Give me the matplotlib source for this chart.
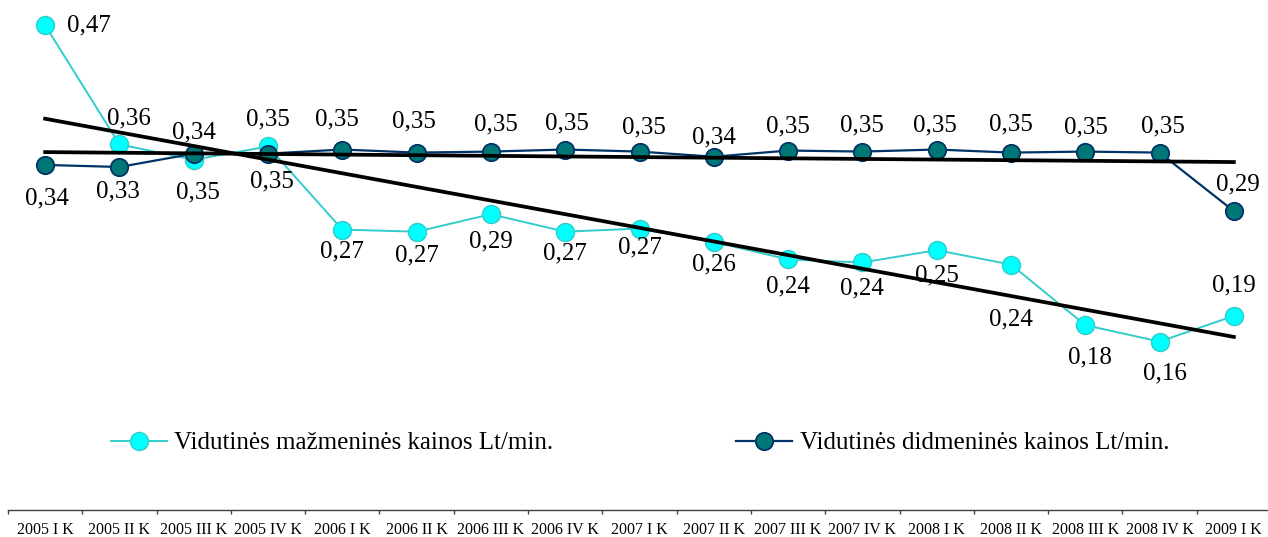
import matplotlib.pyplot as plt
import numpy as np

plt.rcParams['font.family'] = ['Liberation Serif', 'DejaVu Serif']

quarters = ['2005 I K', '2005 II K', '2005 III K', '2005 IV K',
            '2006 I K', '2006 II K', '2006 III K', '2006 IV K',
            '2007 I K', '2007 II K', '2007 III K', '2007 IV K',
            '2008 I K', '2008 II K', '2008 III K', '2008 IV K',
            '2009 I K']

retail = [0.472, 0.356, 0.341, 0.354, 0.273, 0.271, 0.288, 0.271, 0.274,
          0.261, 0.244, 0.241, 0.253, 0.239, 0.180, 0.164, 0.189]
wholesale = [0.336, 0.334, 0.347, 0.347, 0.351, 0.348, 0.349, 0.351, 0.349,
             0.344, 0.350, 0.349, 0.351, 0.348, 0.349, 0.348, 0.291]

retail_name = 'Vidutinės mažmeninės kainos Lt/min.'
wholesale_name = 'Vidutinės didmeninės kainos Lt/min.'

# label offsets in pixels (dx, dy), dy up
retail_off = [(44, 0), (9, 26), (0, 27), (0, 27), (0, -22), (0, -24), (0, -27),
              (0, -22), (0, -19), (0, -23), (0, -27), (0, -26), (0, -25),
              (0, -55), (5, -32), (5, -32), (0, 30)]
wholesale_off = [(2, -34), (-2, -24), (4, -39), (4, -28), (-5, 30), (-3, 31),
                 (5, 27), (2, 26), (4, 24), (0, 19), (0, 24), (0, 26), (-2, 24),
                 (0, 28), (1, 24), (3, 26), (4, 27)]

fig = plt.figure(figsize=(12.68, 5.37), dpi=100)
ax = fig.add_axes([8 / 1268, 27 / 537, 1263 / 1268, 513.5 / 537])
ax.set_xlim(-0.5, 16.5)
ax.set_ylim(0, 0.5)

x = np.arange(len(quarters))

ax.plot(x, retail, color='#33CCCC', lw=1.4, marker='o', ms=13,
        mfc='#00FFFF', mec='#33CCCC', mew=1.0, label=retail_name, zorder=3)
ax.plot(x, wholesale, color='#003366', lw=1.6, marker='o', ms=12.5,
        mfc='#007777', mec='#003366', mew=1.3, label=wholesale_name, zorder=4)

# linear trend lines
for s in (retail, wholesale):
    p = np.polyfit(x, s, 1)
    ax.plot(x[[0, -1]], np.polyval(p, x[[0, -1]]), color='black', lw=2.7, zorder=5)

px = 72 / 100
for i, v in enumerate(retail):
    dx, dy = retail_off[i]
    ax.annotate(f'{v:.2f}'.replace('.', ','), (x[i], v), xytext=(dx * px, dy * px),
                textcoords='offset points', ha='center', va='center', fontsize=18, zorder=6)
for i, v in enumerate(wholesale):
    dx, dy = wholesale_off[i]
    ax.annotate(f'{v:.2f}'.replace('.', ','), (x[i], v), xytext=(dx * px, dy * px),
                textcoords='offset points', ha='center', va='center', fontsize=18, zorder=6)

for sp in ('left', 'top', 'right'):
    ax.spines[sp].set_visible(False)
ax.spines['bottom'].set_color('#404040')
ax.spines['bottom'].set_linewidth(1.0)
ax.set_yticks([])
ax.set_xticks(np.arange(-0.5, 16.6, 1))
ax.set_xticklabels([])
ax.tick_params(axis='x', which='major', length=3, width=1, color='#404040')
ax.set_xticks(x, minor=True)
ax.set_xticklabels(quarters, minor=True, fontsize=11.5)
ax.tick_params(axis='x', which='minor', length=0, pad=9)

fig.legend(loc='center', bbox_to_anchor=(640 / 1268, (537 - 443) / 537), ncol=2,
           frameon=False, fontsize=18, handlelength=2.25, handletextpad=0.3,
           columnspacing=7.3, borderaxespad=0)

fig.savefig('out.png', dpi=100)
